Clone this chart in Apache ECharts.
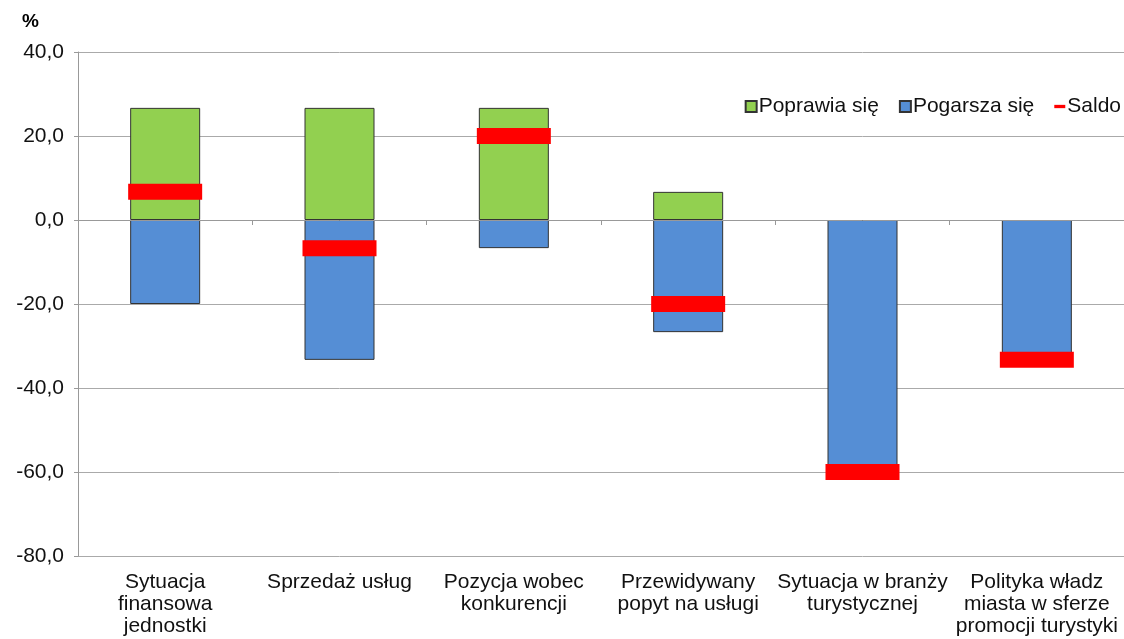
<!DOCTYPE html>
<html>
<head>
<meta charset="utf-8">
<script src="https://cdn.jsdelivr.net/npm/echarts@6/dist/echarts.min.js"></script>
<style>
html,body{margin:0;padding:0;background:#fff;}
#chart{width:1124px;height:639px;}
</style>
</head>
<body>
<div id="chart"></div>
<script>
const categories = [
  'Sytuacja\nfinansowa\njednostki',
  'Sprzedaż usług',
  'Pozycja wobec\nkonkurencji',
  'Przewidywany\npopyt na usługi',
  'Sytuacja w branży\nturystycznej',
  'Polityka władz\nmiasta w sferze\npromocji turystyki'
];
const poprawia = [26.7, 26.7, 26.7, 6.7, null, null];
const pogarsza = [-20.0, -33.3, -6.7, -26.7, -60.0, -33.3];
const saldo = [6.7, -6.7, 20.0, -20.0, -60.0, -33.3];
const yMin = -80, yMax = 40, yStep = 20;

const chart = echarts.init(document.getElementById('chart'), null, {renderer: 'canvas'});
const fmt = v => v.toFixed(1).replace('.', ',');
chart.setOption({
  animation: false,
  textStyle: {fontFamily: 'Liberation Sans, Arial, sans-serif'},
  grid: {left: 78, right: 0, top: 52, bottom: 83, containLabel: false},
  graphic: [{
    type: 'text', left: 22, top: 12,
    style: {text: '%', font: 'bold 19px Liberation Sans, Arial, sans-serif', fill: '#000'}
  }],
  legend: {
    right: -2, top: 91,
    itemWidth: 11, itemHeight: 11, itemGap: 20,
    textStyle: {fontSize: 21, color: '#111', padding: [0, 0, 0, -3]},
    data: [
      {name: 'Poprawia się', icon: 'rect'},
      {name: 'Pogarsza się', icon: 'rect'},
      {name: 'Saldo', icon: 'path://M0,4h10v3h-10z', itemStyle: {color: '#FF0000', borderWidth: 0}}
    ]
  },
  xAxis: [{
    type: 'category', data: categories, position: 'bottom',
    axisLine: {show: false, onZero: false}, axisTick: {show: false},
    axisLabel: {fontSize: 21, color: '#111', lineHeight: 22, margin: 15, interval: 0}
  }, {
    type: 'category', data: categories, position: 'bottom', z: 5,
    axisLine: {show: true, onZero: true, lineStyle: {color: '#999', width: 1}},
    axisTick: {show: true, length: 5, lineStyle: {color: '#999'}},
    axisLabel: {show: false}
  }],
  yAxis: {
    type: 'value', min: yMin, max: yMax, interval: yStep,
    axisLine: {show: true, lineStyle: {color: '#999'}},
    axisTick: {show: true, length: 4, lineStyle: {color: '#999'}},
    splitLine: {lineStyle: {color: '#aaa', width: 1}},
    axisLabel: {formatter: fmt, fontSize: 21, color: '#111', margin: 14}
  },
  series: [{
    name: 'Poprawia się', type: 'bar', stack: 's', data: poprawia, barWidth: 70, xAxisIndex: 0,
    itemStyle: {color: '#92D050', borderColor: '#333', borderWidth: 1}
  }, {
    name: 'Pogarsza się', type: 'bar', stack: 's', data: pogarsza, barWidth: 70, xAxisIndex: 0,
    itemStyle: {color: '#558ED5', borderColor: '#333', borderWidth: 1}
  }, {
    name: 'Saldo', type: 'scatter', data: saldo, xAxisIndex: 0,
    symbol: 'rect', symbolSize: [74, 16], z: 10,
    itemStyle: {color: '#FF0000', opacity: 1}
  }]
});
</script>
</body>
</html>
